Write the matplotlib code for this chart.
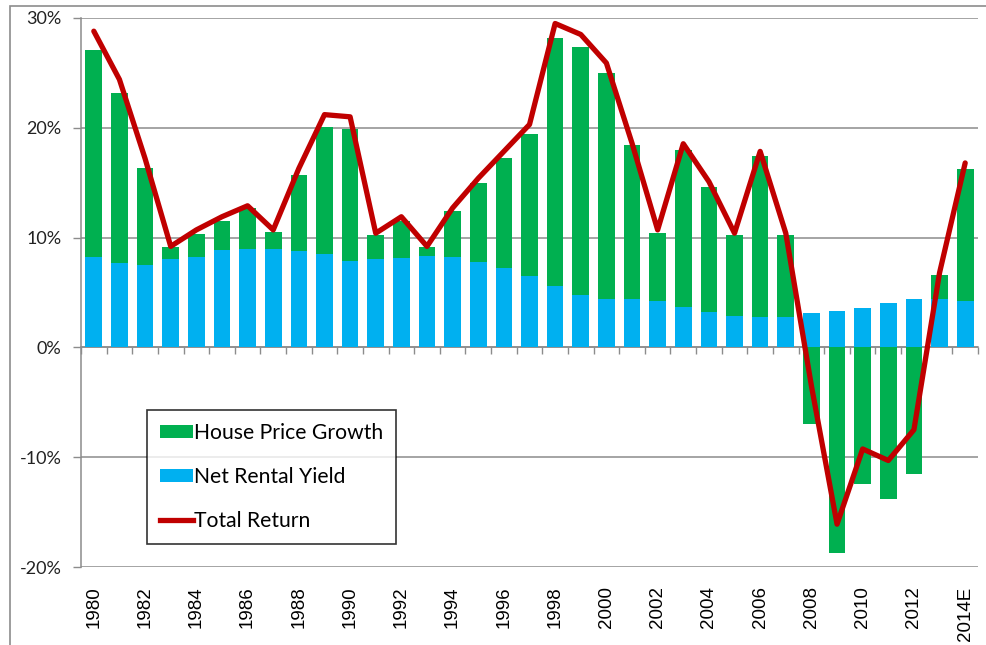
import numpy as np
import matplotlib
matplotlib.use("Agg")
import matplotlib.pyplot as plt
from matplotlib.patches import Patch, Rectangle
from matplotlib.lines import Line2D
from matplotlib.ticker import FuncFormatter

years = [str(y) for y in range(1980, 2014)] + ["2014E"]

# net rental yield (%)
net_yield = [8.2, 7.7, 7.5, 8.05, 8.2, 8.9, 9.0, 9.0, 8.8, 8.5,
             7.9, 8.05, 8.1, 8.35, 8.2, 7.8, 7.2, 6.5, 5.55, 4.8,
             4.45, 4.45, 4.25, 3.65, 3.2, 2.9, 2.75, 2.8, 3.1, 3.3,
             3.55, 4.0, 4.45, 4.45, 4.2]

# house price growth (%)
price_growth = [18.9, 15.5, 8.8, 1.05, 2.15, 2.6, 3.7, 1.5, 6.9, 11.6,
                12.0, 2.15, 3.45, 0.8, 4.25, 7.2, 10.05, 12.95, 22.65, 22.6,
                20.55, 13.95, 6.15, 14.3, 11.45, 7.3, 14.7, 7.4, -7.0, -18.7,
                -12.4, -13.8, -11.5, 2.1, 12.05]

# total return (%)
total_return = [28.8, 24.4, 17.2, 9.2, 10.7, 11.9, 12.9, 10.7, 16.3, 21.2,
                21.0, 10.4, 11.9, 9.2, 12.7, 15.4, 17.85, 20.3, 29.5, 28.5,
                25.9, 18.6, 10.7, 18.55, 15.1, 10.4, 17.85, 10.4, -3.5, -16.1,
                -9.25, -10.3, -7.5, 6.8, 16.8]

green = "#00B050"
blue = "#00B0F0"
red = "#C00000"
grid_col = "#8C8C8C"

fig = plt.figure(figsize=(9.86, 6.45), dpi=100)
ax = fig.add_axes((81 / 986, 1 - 567 / 645, 897 / 986, 549 / 645))

# outer chart frame
fig.patches.append(Rectangle((9.5 / 986, -0.01), 1.0, 1 - 5.5 / 645 + 0.01,
                             transform=fig.transFigure, fill=False,
                             edgecolor=grid_col, linewidth=1.2))

x = np.arange(len(years))
ny = np.array(net_yield)
pg = np.array(price_growth)
bottom = np.where(pg >= 0, ny, 0)

ax.bar(x, ny, width=0.65, color=blue, zorder=2)
ax.bar(x, pg, width=0.65, bottom=bottom, color=green, zorder=2)
ax.plot(x, total_return, color=red, linewidth=3.8, zorder=4,
        solid_joinstyle="round", solid_capstyle="round")

ax.set_xlim(-0.5, len(years) - 0.5)
ax.set_ylim(-20, 30)
ax.set_yticks(np.arange(-20, 31, 10))
ax.yaxis.set_major_formatter(FuncFormatter(lambda v, p: "%d%%" % v))
ax.yaxis.grid(True, color=grid_col, linewidth=1.1, zorder=0)
ax.set_axisbelow(True)
ax.tick_params(axis="y", length=6, width=1, color=grid_col, pad=8,
               labelsize=13, labelcolor="#222222")
for lbl in ax.get_yticklabels():
    lbl.set_family("Lato")

for side in ["top", "right", "bottom"]:
    ax.spines[side].set_visible(False)
ax.spines["left"].set_color(grid_col)
ax.spines["left"].set_linewidth(1.1)

# category labels along the bottom, every other year
ax.set_xticks(x[::2])
ax.set_xticklabels(years[::2], rotation=90, va="top", ha="center",
                   family="Liberation Sans", fontsize=13.5)
ax.tick_params(axis="x", length=0, pad=14)

# zero axis with ticks between categories
sec = ax.secondary_xaxis(0.4)
sec.spines["bottom"].set_color(grid_col)
sec.spines["bottom"].set_linewidth(1.1)
sec.set_xticks(np.arange(-0.5, len(years), 1.0))
sec.set_xticklabels([])
sec.tick_params(axis="x", length=5, width=1, color=grid_col, direction="out")

handles = [Patch(facecolor=green, edgecolor="none"),
           Patch(facecolor=blue, edgecolor="none"),
           Line2D([0], [0], color=red, linewidth=3.8)]
leg = ax.legend(handles, ["House Price Growth", "Net Rental Yield", "Total Return"],
                loc="upper left", bbox_to_anchor=(66 / 897, (567 - 410) / 549),
                borderaxespad=0, frameon=True, fancybox=False,
                prop={"family": "Lato", "size": 15.2},
                handlelength=1.6, handleheight=0.6, handletextpad=0.05,
                labelspacing=1.15, borderpad=0.6)
leg.get_frame().set_edgecolor("black")
leg.get_frame().set_linewidth(1.2)
leg.set_zorder(5)

fig.savefig("out.png", dpi=100)
